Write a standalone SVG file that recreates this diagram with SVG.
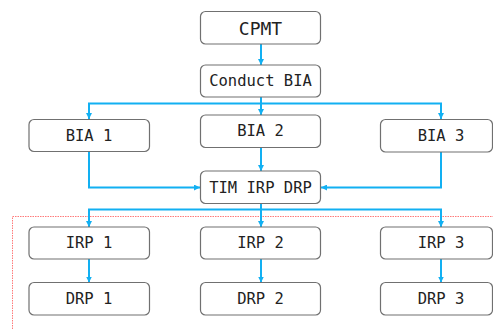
<svg xmlns="http://www.w3.org/2000/svg" width="493" height="329" viewBox="0 0 493 329">
<style>
.box{fill:#fff;stroke:#707070;stroke-width:1.2}
.t{font-family:"DejaVu Sans Mono","Liberation Mono",monospace;font-size:15.5px;fill:#222;text-anchor:middle;dominant-baseline:central}
.big{font-size:18px}
.c{fill:none;stroke:#12b0f2;stroke-width:2}
.red{fill:none;stroke:#ff7a7a;stroke-width:1;stroke-dasharray:1.5 1}
</style>
<defs>
<marker id="ah" viewBox="0 0 6 6" refX="6" refY="3" markerWidth="6" markerHeight="6" markerUnits="userSpaceOnUse" orient="auto">
<path d="M0,0 L6,3 L0,6 z" fill="#12b0f2"/>
</marker>
</defs>
<rect width="493" height="329" fill="#fff"/>
<path class="red" d="M12.5,329 V216.5 H493"/>
<g id="connectors">
<path class="c" marker-end="url(#ah)" d="M261,44 V65"/>
<path class="c" d="M261,97 V103.5"/>
<path class="c" d="M89,119 V103.5 H441 V119"/>
<path class="c" marker-end="url(#ah)" d="M89,105 V119"/>
<path class="c" marker-end="url(#ah)" d="M261,103.5 V115"/>
<path class="c" marker-end="url(#ah)" d="M441,105 V119"/>
<path class="c" marker-end="url(#ah)" d="M89,152 V187.5 H200"/>
<path class="c" marker-end="url(#ah)" d="M441,152 V187.5 H321"/>
<path class="c" marker-end="url(#ah)" d="M261,148 V171"/>
<path class="c" d="M261,203 V209.5"/>
<path class="c" d="M89,226 V209.5 H441 V226"/>
<path class="c" marker-end="url(#ah)" d="M89,211 V227"/>
<path class="c" marker-end="url(#ah)" d="M261,209.5 V227"/>
<path class="c" marker-end="url(#ah)" d="M441,211 V227"/>
<path class="c" marker-end="url(#ah)" d="M89,259 V282.5"/>
<path class="c" marker-end="url(#ah)" d="M261,259 V282.5"/>
<path class="c" marker-end="url(#ah)" d="M441,259 V282.5"/>
</g>
<g id="cpmt"><rect class="box" x="200.5" y="11.5" width="120" height="32.5" rx="5"/><text class="t big" x="260.5" y="28">CPMT</text></g>
<g id="conduct"><rect class="box" x="200.5" y="65" width="120" height="32" rx="5"/><text class="t" x="260.5" y="81">Conduct BIA</text></g>
<g id="bia1"><rect class="box" x="29" y="119.5" width="120.5" height="32" rx="5"/><text class="t" x="89" y="135.5">BIA 1</text></g>
<g id="bia2"><rect class="box" x="200.5" y="115" width="120" height="32.5" rx="5"/><text class="t" x="260.5" y="131">BIA 2</text></g>
<g id="bia3"><rect class="box" x="380.5" y="119.5" width="112" height="32.5" rx="5"/><text class="t" x="441" y="136">BIA 3</text></g>
<g id="tim"><rect class="box" x="200.5" y="171" width="120" height="32.5" rx="5"/><text class="t" x="260.5" y="187.5">TIM IRP DRP</text></g>
<g id="irp1"><rect class="box" x="29" y="227" width="120.5" height="32" rx="5"/><text class="t" x="89" y="243">IRP 1</text></g>
<g id="irp2"><rect class="box" x="200.5" y="227" width="120" height="32" rx="5"/><text class="t" x="260.5" y="243">IRP 2</text></g>
<g id="irp3"><rect class="box" x="380.5" y="227" width="112" height="32" rx="5"/><text class="t" x="441" y="243">IRP 3</text></g>
<g id="drp1"><rect class="box" x="29" y="282.5" width="120.5" height="32.5" rx="5"/><text class="t" x="89" y="299">DRP 1</text></g>
<g id="drp2"><rect class="box" x="200.5" y="282.5" width="120" height="32.5" rx="5"/><text class="t" x="260.5" y="299">DRP 2</text></g>
<g id="drp3"><rect class="box" x="380.5" y="282.5" width="112" height="32.5" rx="5"/><text class="t" x="441" y="299">DRP 3</text></g>
</svg>
